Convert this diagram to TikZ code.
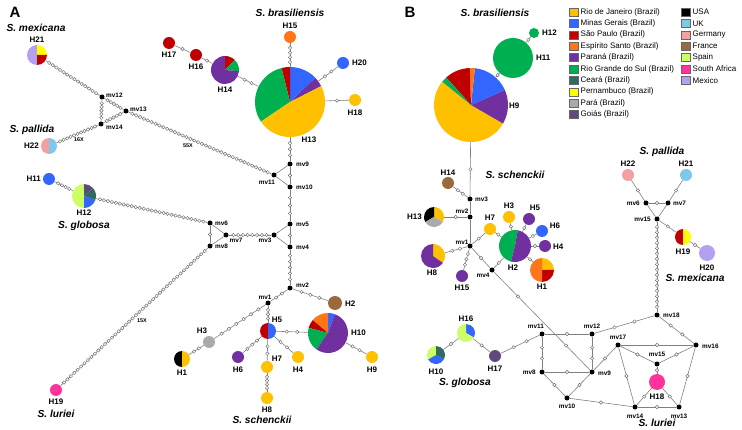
\documentclass[tikz,border=0pt]{standalone}
\usepackage{fontspec}
\setmainfont{Liberation Sans}
\definecolor{cRJ}{HTML}{FFC000}
\definecolor{cMG}{HTML}{3366FF}
\definecolor{cSP}{HTML}{C00000}
\definecolor{cES}{HTML}{FF7518}
\definecolor{cPR}{HTML}{7030A0}
\definecolor{cRS}{HTML}{00B050}
\definecolor{cCE}{HTML}{2F6B61}
\definecolor{cPE}{HTML}{FFFF00}
\definecolor{cPA}{HTML}{AAAAAA}
\definecolor{cGO}{HTML}{604A7B}
\definecolor{cUSA}{HTML}{000000}
\definecolor{cUK}{HTML}{7FC8E8}
\definecolor{cDE}{HTML}{F4A0A0}
\definecolor{cFR}{HTML}{9A6A3C}
\definecolor{cSPN}{HTML}{CCFF66}
\definecolor{cZA}{HTML}{FF3399}
\definecolor{cMX}{HTML}{B4A0F0}
\tikzset{
 lk/.style={draw=gray, line width=0.6pt},
 mut/.style={circle, draw=gray!90!black, fill=white, line width=0.45pt, inner sep=0pt, minimum size=3.4pt},
 mvn/.style={circle, fill=black, inner sep=0pt, minimum size=5pt},
 hl/.style={font=\bfseries\fontsize{8}{9}\selectfont, inner sep=0pt},
 ml/.style={font=\bfseries\fontsize{6.4}{7}\selectfont, inner sep=0pt},
 xl/.style={font=\bfseries\fontsize{5.4}{6}\selectfont, inner sep=0pt},
 sp/.style={font=\bfseries\itshape\fontsize{10.2}{12}\selectfont, inner sep=0pt},
 pl/.style={font=\bfseries\fontsize{15}{16}\selectfont, inner sep=0pt},
 lg/.style={font=\fontsize{8}{9}\selectfont, inner sep=0pt, anchor=west},
 lbox/.style={draw=gray!80!black, line width=0.4pt, minimum width=9pt, minimum height=8pt, inner sep=0pt}
}
\newcommand\pie[4]{%
 \node[circle, inner sep=0pt, minimum size=#3*2pt, draw=none] (#1) at (#2) {};
 \foreach \sa/\sb/\sc in {#4}{\fill[\sc] (#2) -- ++(\sa:#3) arc[start angle=\sa, end angle=\sb, radius=#3] -- cycle;}%
}
\newcommand\mlink[3]{\draw[lk] (#1) -- (#2) \foreach \k [evaluate=\k as \p using \k/(#3+1)] in {1,...,#3} {node[mut,pos=\p]{}};}
\newcommand\plink[2]{\draw[lk] (#1) -- (#2);}
\begin{document}
\begin{tikzpicture}[x=1pt,y=1pt]
\useasboundingbox (0,0) rectangle (742,-430);
% ================= PANEL A =================
\node[pl] (labA) at (15,-12) {A};
\node[sp] (spAmex) at (36,-28) {S. mexicana};
\node[sp] (spApal) at (32,-130) {S. pallida};
\node[sp] (spAglo) at (84,-226) {S. globosa};
\node[sp] (spAlur) at (56,-414) {S. luriei};
\node[sp] (spAsch) at (262,-420) {S. schenckii};
\node[sp] (spAbra) at (290,-13) {S. brasiliensis};
% pies
\pie{A21}{37,-55}{10}{90/270/cMX, 0/90/cPE, -90/0/cSP}
\pie{A22}{49,-146}{8}{90/270/cDE, -90/90/cUK}
\pie{A11}{49,-179}{6}{0/360/cMG}
\pie{A12}{84,-196}{12}{90/270/cSPN, 40/90/cGO, -20/40/cCE, -90/-20/cMG}
\pie{A19}{56,-390}{6}{0/360/cZA}
\pie{A1}{182,-359}{8}{90/270/cUSA, -90/90/cRJ}
\pie{A3}{209,-342}{6}{0/360/cPA}
\pie{A2}{335,-303}{7}{0/360/cFR}
\pie{A5}{268,-331}{8}{90/270/cSP, -90/90/cMG}
\pie{A10}{328,-333}{20}{70/90/cMG, 90/140/cES, 140/165/cSP, 165/235/cRS, 235/430/cPR}
\pie{A6}{238,-357}{6}{0/360/cPR}
\pie{A7}{267,-367}{6}{0/360/cRJ}
\pie{A4}{298,-357}{6}{0/360/cRJ}
\pie{A8}{267,-398}{6}{0/360/cRJ}
\pie{A9}{372,-357}{6}{0/360/cRJ}
\pie{A15}{290,-37}{6}{0/360/cES}
\pie{A17}{169,-43}{6}{0/360/cSP}
\pie{A16}{196,-55}{6}{0/360/cSP}
\pie{A14}{225,-70}{14}{45/90/cSP, -5/45/cRS, 90/355/cPR}
\pie{A13}{290,-102}{35}{27/44/cPR, 44/90/cMG, 90/104/cSP, 104/214/cRS, 214/387/cRJ}
\pie{A20}{343,-63}{6}{0/360/cMG}
\pie{A18}{355,-100}{6}{0/360/cRJ}
% median vectors
\node[mvn] (Am12) at (102,-97) {};
\node[mvn] (Am13) at (126,-111) {};
\node[mvn] (Am14) at (101,-124) {};
\node[mvn] (Am9) at (290,-164) {};
\node[mvn] (Am11) at (274,-175) {};
\node[mvn] (Am10) at (290,-187) {};
\node[mvn] (Am6) at (210,-223) {};
\node[mvn] (Am7) at (226,-235) {};
\node[mvn] (Am8) at (210,-246) {};
\node[mvn] (Am3) at (274,-235) {};
\node[mvn] (Am5) at (290,-224) {};
\node[mvn] (Am4) at (290,-247) {};
\node[mvn] (Am2) at (290,-288) {};
\node[mvn] (Am1) at (268,-303) {};
% links A
\mlink{A21}{Am12}{14}
\mlink{Am12}{Am13}{5}
\mlink{Am12}{Am14}{5}
\mlink{Am14}{Am13}{5}
\mlink{A22}{Am14}{11}
\mlink{Am13}{Am11}{36}
\mlink{A11}{A12}{4}
\mlink{A12}{Am6}{27}
\mlink{Am8}{A19}{42}
\mlink{Am6}{Am8}{1}
\plink{Am6}{Am7}
\plink{Am7}{Am8}
\mlink{Am7}{Am3}{8}
\plink{Am3}{Am5}
\plink{Am3}{Am4}
\mlink{Am5}{Am4}{1}
\mlink{Am5}{Am10}{3}
\mlink{Am10}{Am9}{1}
\plink{Am9}{Am11}
\plink{Am11}{Am10}
\mlink{Am9}{A13}{3}
\mlink{A13}{A15}{4}
\mlink{A13}{A14}{2}
\mlink{A14}{A16}{1}
\mlink{A16}{A17}{1}
\mlink{A13}{A20}{2}
\mlink{A13}{A18}{1}
\mlink{Am4}{Am2}{5}
\mlink{Am2}{A2}{3}
\mlink{Am2}{Am1}{2}
\mlink{Am1}{A3}{6}
\mlink{A3}{A1}{2}
\mlink{Am1}{A5}{3}
\mlink{A5}{A10}{2}
\mlink{A5}{A6}{3}
\mlink{A5}{A7}{2}
\mlink{A5}{A4}{2}
\mlink{A7}{A8}{4}
\mlink{A10}{A9}{2}
% labels A
\node[hl] (lA21) at (37,-40) {H21};
\node[hl, anchor=east] (lA22) at (39,-146) {H22};
\node[hl, anchor=east] (lA11) at (41,-179) {H11};
\node[hl] (lA12) at (84,-213) {H12};
\node[hl] (lA19) at (56,-402) {H19};
\node[hl] (lA1) at (182,-373) {H1};
\node[hl] (lA3) at (202,-331) {H3};
\node[hl, anchor=west] (lA2) at (345,-304) {H2};
\node[hl] (lA5) at (277,-320) {H5};
\node[hl, anchor=west] (lA10) at (351,-333) {H10};
\node[hl] (lA6) at (238,-370) {H6};
\node[hl] (lA7) at (277,-359) {H7};
\node[hl] (lA4) at (298,-370) {H4};
\node[hl] (lA8) at (267,-410) {H8};
\node[hl] (lA9) at (372,-370) {H9};
\node[hl] (lA15) at (290,-26) {H15};
\node[hl] (lA17) at (169,-55) {H17};
\node[hl] (lA16) at (196,-67) {H16};
\node[hl] (lA14) at (225,-90) {H14};
\node[hl] (lA13) at (309,-140) {H13};
\node[hl, anchor=west] (lA20) at (352,-63) {H20};
\node[hl] (lA18) at (355,-113) {H18};
\node[ml, anchor=west] (lAm12) at (106,-95) {mv12};
\node[ml, anchor=west] (lAm13) at (130,-109) {mv13};
\node[ml, anchor=west] (lAm14) at (106,-127) {mv14};
\node[ml, anchor=west] (lAm9) at (296,-164) {mv9};
\node[ml] (lAm11) at (267,-182) {mv11};
\node[ml, anchor=west] (lAm10) at (296,-187) {mv10};
\node[ml, anchor=west] (lAm6) at (215,-223) {mv6};
\node[ml] (lAm7) at (236,-240) {mv7};
\node[ml, anchor=west] (lAm8) at (215,-246) {mv8};
\node[ml] (lAm3) at (265,-240) {mv3};
\node[ml, anchor=west] (lAm5) at (296,-224) {mv5};
\node[ml, anchor=west] (lAm4) at (296,-247) {mv4};
\node[ml, anchor=west] (lAm2) at (296,-285) {mv2};
\node[ml] (lAm1) at (265,-297) {mv1};
\node[xl] (x16) at (79,-140) {16X};
\node[xl] (x55) at (188,-146) {55X};
\node[xl] (x15) at (142,-321) {15X};
% ================= PANEL B =================
\node[pl] (labB) at (410,-12) {B};
\node[sp] (spBbra) at (495,-13) {S. brasiliensis};
\node[sp] (spBsch) at (515,-175) {S. schenckii};
\node[sp] (spBglo) at (465,-383) {S. globosa};
\node[sp] (spBlur) at (657,-423) {S. luriei};
\node[sp] (spBpal) at (662,-152) {S. pallida};
\node[sp] (spBmex) at (695,-278) {S. mexicana};
\pie{B12}{534,-33}{5}{0/360/cRS}
\pie{B11}{513,-58}{20}{0/360/cRS}
\pie{B9}{471,-105}{37}{141/330/cRJ, 330/384/cPR, 24/84/cMG, 84/92/cES, 92/132/cSP, 132/141/cRS}
\pie{B14}{448,-183}{6}{0/360/cFR}
\pie{B13}{434,-217}{10}{-30/90/cRJ, 90/210/cUSA, 210/330/cPA}
\pie{B7}{490,-229}{6}{0/360/cRJ}
\pie{B3}{509,-217}{6}{0/360/cRJ}
\pie{B5}{529,-219}{6}{0/360/cPR}
\pie{B6}{542,-231}{6}{0/360/cMG}
\pie{B4}{545,-246}{6}{0/360/cPR}
\pie{B2}{515,-246}{16}{80/255/cRS, 255/440/cPR}
\pie{B1}{542,-270}{12}{0/90/cRJ, -90/0/cSP, 90/270/cES}
\pie{B8}{433,-256}{12}{-35/90/cRJ, 90/325/cPR}
\pie{B15}{462,-276}{6}{0/360/cPR}
\pie{B16}{466,-333}{9}{-30/90/cMG, 90/330/cSPN}
\pie{B10}{436,-355}{9}{90/210/cSPN, -30/90/cCE, 210/330/cMG}
\pie{B17}{495,-356}{6}{0/360/cGO}
\pie{B18}{657,-382}{8}{0/360/cZA}
\pie{B22}{628,-175}{6}{0/360/cDE}
\pie{B21}{686,-175}{6}{0/360/cUK}
\pie{B19}{683,-237}{8}{90/270/cSP, -90/90/cPE}
\pie{B20}{707,-253}{8}{0/360/cMX}
\node[mvn] (Bm3) at (470,-199) {};
\node[mvn] (Bm2) at (470,-217) {};
\node[mvn] (Bm1) at (470,-246) {};
\node[mvn] (Bm4) at (492,-270) {};
\node[mvn] (Bm11) at (542,-334) {};
\node[mvn] (Bm12) at (592,-334) {};
\node[mvn] (Bm8) at (542,-372) {};
\node[mvn] (Bm9) at (592,-372) {};
\node[mvn] (Bm10) at (567,-398) {};
\node[mvn] (Bm17) at (618,-345) {};
\node[mvn] (Bm14) at (635,-407) {};
\node[mvn] (Bm13) at (679,-407) {};
\node[mvn] (Bm15b) at (657,-364) {};
\node[mvn] (Bm16) at (696,-345) {};
\node[mvn] (Bm18) at (657,-315) {};
\node[mvn] (Bm6) at (646,-203) {};
\node[mvn] (Bm7) at (668,-203) {};
\node[mvn] (Bm15) at (657,-219) {};
% links B
\mlink{B12}{B11}{1}
\mlink{B11}{B9}{1}
\mlink{B9}{Bm3}{1}
\mlink{B14}{Bm3}{2}
\plink{Bm3}{Bm2}
\mlink{Bm2}{B13}{1}
\plink{Bm2}{Bm1}
\mlink{Bm1}{B7}{1}
\mlink{B7}{B2}{1}
\mlink{B3}{B2}{1}
\mlink{B5}{B2}{1}
\mlink{B6}{B2}{1}
\mlink{B4}{B2}{1}
\mlink{B1}{B2}{1}
\mlink{Bm4}{B2}{1}
\mlink{Bm1}{Bm4}{1}
\mlink{Bm1}{B8}{2}
\mlink{Bm1}{B15}{3}
\draw[lk] (Bm4) -- (Bm9) node[mut,pos=0.25]{} node[mut,pos=0.75]{};
\mlink{B16}{B10}{1}
\mlink{B16}{B17}{1}
\mlink{B17}{Bm11}{2}
\mlink{Bm11}{Bm12}{1}
\mlink{Bm11}{Bm8}{2}
\mlink{Bm8}{Bm9}{1}
\mlink{Bm12}{Bm9}{2}
\mlink{Bm8}{Bm10}{1}
\mlink{Bm10}{Bm9}{1}
\mlink{Bm10}{Bm14}{1}
\mlink{Bm9}{Bm17}{1}
\mlink{Bm12}{Bm18}{2}
\mlink{Bm18}{Bm15}{16}
\plink{Bm15}{Bm6}
\plink{Bm15}{Bm7}
\mlink{Bm6}{Bm7}{1}
\mlink{Bm6}{B22}{1}
\mlink{Bm7}{B21}{1}
\mlink{Bm15}{B19}{1}
\mlink{B19}{B20}{1}
\mlink{Bm18}{Bm16}{2}
\mlink{Bm17}{Bm16}{1}
\mlink{Bm17}{Bm15b}{1}
\mlink{Bm16}{Bm15b}{1}
\mlink{Bm15b}{B18}{1}
\mlink{Bm17}{Bm14}{1}
\mlink{B18}{Bm14}{1}
\mlink{B18}{Bm13}{1}
\mlink{Bm14}{Bm13}{1}
\mlink{Bm16}{Bm13}{1}
% labels B
\node[hl, anchor=west] (lB12) at (542,-33) {H12};
\node[hl, anchor=west] (lB11) at (536,-58) {H11};
\node[hl, anchor=west] (lB9) at (509,-106) {H9};
\node[hl] (lB14) at (448,-173) {H14};
\node[hl, anchor=east] (lB13) at (422,-217) {H13};
\node[hl] (lB7) at (490,-218) {H7};
\node[hl] (lB3) at (509,-206) {H3};
\node[hl] (lB5) at (535,-208) {H5};
\node[hl] (lB6) at (555,-226) {H6};
\node[hl, anchor=west] (lB4) at (553,-247) {H4};
\node[hl] (lB2) at (513,-268) {H2};
\node[hl] (lB1) at (542,-287) {H1};
\node[hl] (lB8) at (432,-273) {H8};
\node[hl] (lB15) at (462,-288) {H15};
\node[hl] (lB16) at (466,-319) {H16};
\node[hl] (lB10) at (436,-372) {H10};
\node[hl] (lB17) at (495,-369) {H17};
\node[hl] (lB18) at (657,-397) {H18};
\node[hl] (lB22) at (628,-164) {H22};
\node[hl] (lB21) at (686,-164) {H21};
\node[hl] (lB19) at (683,-252) {H19};
\node[hl] (lB20) at (707,-268) {H20};
\node[ml, anchor=west] (lBm3) at (475,-199) {mv3};
\node[ml] (lBm2) at (462,-211) {mv2};
\node[ml] (lBm1) at (462,-242) {mv1};
\node[ml] (lBm4) at (483,-275) {mv4};
\node[ml] (lBm11) at (536,-326) {mv11};
\node[ml] (lBm12) at (592,-326) {mv12};
\node[ml, anchor=east] (lBm8) at (536,-372) {mv8};
\node[ml, anchor=west] (lBm9) at (598,-373) {mv9};
\node[ml] (lBm10) at (567,-406) {mv10};
\node[ml] (lBm17) at (618,-337) {mv17};
\node[ml] (lBm14) at (635,-416) {mv14};
\node[ml] (lBm13) at (679,-416) {mv13};
\node[ml] (lBm15b) at (657,-354) {mv15};
\node[ml, anchor=west] (lBm16) at (702,-346) {mv16};
\node[ml, anchor=west] (lBm18) at (663,-315) {mv18};
\node[ml, anchor=east] (lBm6) at (640,-203) {mv6};
\node[ml, anchor=west] (lBm7) at (673,-203) {mv7};
\node[ml, anchor=east] (lBm15) at (651,-219) {mv15};
% legend
\foreach \i/\c/\t in {0/cRJ/Rio de Janeiro (Brazil), 1/cMG/Minas Gerais (Brazil), 2/cSP/São Paulo (Brazil), 3/cES/Espírito Santo (Brazil), 4/cPR/Paraná (Brazil), 5/cRS/Rio Grande do Sul (Brazil), 6/cCE/Ceará (Brazil), 7/cPE/Pernambuco (Brazil), 8/cPA/Pará (Brazil), 9/cGO/Goiás (Brazil)}{
 \node[lbox, fill=\c] (lga\i) at (573.5,{-12-11.4*\i}) {};
 \node[lg] (lgta\i) at (580.5,{-12-11.4*\i}) {\t};
}
\foreach \i/\c/\t in {0/cUSA/USA, 1/cUK/UK, 2/cDE/Germany, 3/cFR/France, 4/cSPN/Spain, 5/cZA/South Africa, 6/cMX/Mexico}{
 \node[lbox, fill=\c] (lgb\i) at (685.5,{-12-11.4*\i}) {};
 \node[lg] (lgtb\i) at (692.5,{-12-11.4*\i}) {\t};
}
\end{tikzpicture}
\end{document}
